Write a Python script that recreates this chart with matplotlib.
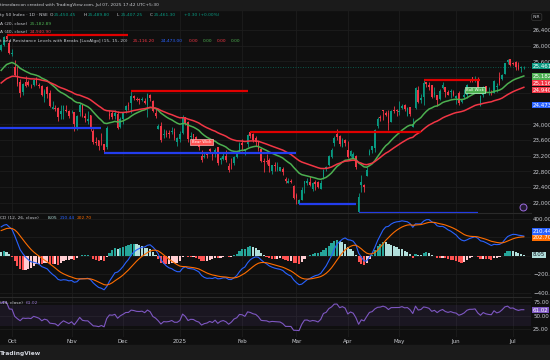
import numpy as np
import pandas as pd
import matplotlib
matplotlib.use("Agg")
import matplotlib.pyplot as plt
from matplotlib.patches import Rectangle

# ---- data: NIFTY 50 daily candles, 25 Sep 2024 .. 7 Jul 2025 ----
holidays = ["2024-10-02", "2024-11-15", "2024-11-20", "2024-12-25", "2025-02-26",
            "2025-03-14", "2025-03-31", "2025-04-10", "2025-04-14", "2025-04-18", "2025-05-01"]
extra_sessions = ["2025-02-01"]

opens = [
    25899, 26005, 26248, 26061,
    25788, 25452, 25181, 25085, 24832, 25065, 25067, 24986, 25009, 25187, 25008, 24972, 24664, 24956, 24798, 24378, 24412, 24418, 24251, 24328, 24371, 24349,
    24302, 24315, 23917, 24308, 24489, 24208, 24087, 24225, 23822, 23542, 23605, 23529, 23489, 23412, 24254, 24289, 24204, 24274, 23927,
    24141, 24367, 24489, 24540, 24729, 24633, 24652, 24620, 24604, 24498, 24753, 24584, 24297, 23877, 23960, 23738, 23769, 23775, 23801, 23796, 23560,
    23637, 23783, 24196, 24046, 23679, 23746, 23674, 23551, 23195, 23165, 23250, 23377, 23278, 23290, 23421, 23099, 23129, 23183, 22941, 22961, 23027, 23169, 23296,
    23528, 23319, 23509, 23801, 23761, 23649, 23543, 23383, 23050, 23055, 23096, 22809, 22963, 22847, 22821, 22857, 22610, 22516, 22568, 22433,
    22194, 21974, 22073, 22476, 22508, 22521, 22346, 22537, 22541, 22354, 22662, 22874, 22960, 23169, 23515, 23751, 23700, 23433, 23601,
    23341, 23192, 23150, 23190, 21758, 22446, 22460, 22695, 23208, 23345, 23401, 23949, 24185, 24358, 24277, 24289, 24070, 24370, 24342,
    24311, 24419, 24500, 24200, 24431, 23936, 24420, 24864, 24613, 24694, 25064, 25006, 24996, 24744, 24733, 24639, 24919, 24956, 24832, 24825, 24812,
    24669, 24786, 24560, 24691, 24749, 25160, 25196, 25134, 25164, 24474, 24733, 24977, 24788, 24803, 24788, 24939, 25179, 25150, 25268, 25576, 25661,
    25551, 25588, 25505, 25428, 25450,
]
highs = [
    26033, 26250, 26277, 26134,
    25907, 25639, 25485, 25143, 25044, 25234, 25134, 25029, 25159, 25212, 25041, 24987, 24886, 24978, 24882, 24604, 24480, 24440, 24492, 24484, 24499, 24372,
    24368, 24316, 24230, 24537, 24503, 24276, 24336, 24242, 23873, 23675, 23606, 23781, 23507, 23956, 24351, 24343, 24354, 24345, 24188,
    24301, 24481, 24574, 24857, 24751, 24705, 24677, 24691, 24675, 24793, 24781, 24624, 24395, 24004, 24065, 23869, 23867, 23854, 23939, 23916, 23689,
    23822, 24226, 24196, 24089, 23795, 23751, 23690, 23596, 23340, 23264, 23293, 23391, 23292, 23391, 23426, 23169, 23270, 23347, 23005, 23137, 23184, 23322, 23546,
    23632, 23381, 23762, 23807, 23773, 23694, 23569, 23390, 23144, 23235, 23134, 22974, 23050, 23049, 22924, 22921, 22668, 22625, 22613, 22450,
    22262, 22106, 22394, 22557, 22633, 22677, 22522, 22577, 22558, 22577, 22857, 22940, 23216, 23403, 23709, 23869, 23737, 23647, 23630,
    23565, 23350, 23306, 23214, 22255, 22698, 22469, 22923, 23368, 23452, 23872, 24189, 24242, 24359, 24348, 24365, 24355, 24457, 24396,
    24589, 24526, 24510, 24449, 24447, 24164, 24944, 24973, 24767, 25116, 25071, 25070, 25010, 24946, 24737, 24909, 25079, 24956, 24864, 24892, 24863,
    24754, 24845, 24644, 24899, 25029, 25160, 25199, 25223, 25196, 24754, 24967, 24982, 24947, 24863, 25136, 25057, 25317, 25266, 25561, 25654, 25669,
    25593, 25608, 25587, 25470, 25490,
]
lows = [
    25872, 25998, 26151, 25794,
    25739, 25230, 24966, 24694, 24756, 24947, 24979, 24921, 24979, 25008, 24920, 24728, 24567, 24679, 24446, 24378, 24341, 24074, 24135, 24141, 24307, 24172,
    24280, 23817, 23842, 24204, 24179, 24066, 24004, 23839, 23509, 23484, 23350, 23464, 23263, 23359, 24135, 24125, 24145, 23873, 23916,
    24008, 24280, 24366, 24295, 24620, 24580, 24510, 24583, 24527, 24180, 24601, 24303, 24149, 23870, 23537, 23647, 23685, 23653, 23761, 23599, 23460,
    23562, 23751, 23976, 23551, 23637, 23496, 23503, 23344, 23047, 23135, 23146, 23272, 23100, 23170, 22976, 22981, 23091, 23050, 22786, 22857, 22977, 23139, 23277,
    23318, 23222, 23423, 23645, 23556, 23443, 23316, 23046, 22798, 22993, 22775, 22725, 22801, 22814, 22812, 22720, 22518, 22513, 22508, 22105,
    21965, 21964, 22068, 22245, 22464, 22430, 22315, 22329, 22378, 22353, 22599, 22807, 22940, 23132, 23451, 23601, 23451, 23412, 23450,
    23136, 23158, 23145, 22857, 21744, 22271, 22271, 22695, 23207, 23273, 23298, 23903, 24073, 24119, 24216, 23847, 24054, 24290, 24199,
    24238, 24400, 24331, 24220, 24220, 23936, 24379, 24547, 24535, 24494, 24953, 24880, 24669, 24685, 24462, 24614, 24900, 24704, 24737, 24677, 24717,
    24526, 24502, 24530, 24671, 24671, 25077, 25081, 25081, 24825, 24473, 24703, 24813, 24750, 24733, 24784, 24824, 24999, 25125, 25267, 25523, 25489,
    25501, 25378, 25384, 25331, 25407,
]
closes = [
    26004, 26216, 26178, 25810,
    25796, 25250, 25015, 24796, 25013, 24981, 24998, 24964, 25128, 25057, 24971, 24749, 24854, 24781, 24472, 24435, 24399, 24180, 24339, 24466, 24341, 24205,
    24304, 23995, 24213, 24484, 24199, 24148, 24141, 23883, 23559, 23533, 23453, 23518, 23349, 23907, 24221, 24194, 24275, 23914, 24131,
    24276, 24457, 24467, 24708, 24677, 24619, 24610, 24641, 24548, 24768, 24668, 24336, 24199, 23952, 23588, 23753, 23728, 23750, 23813, 23645, 23645,
    23743, 24189, 24005, 23616, 23708, 23689, 23527, 23432, 23086, 23176, 23213, 23312, 23203, 23345, 23025, 23155, 23205, 23092, 22829, 22957, 23163, 23249, 23508,
    23482, 23361, 23739, 23696, 23603, 23560, 23382, 23072, 23045, 23031, 22929, 22960, 22945, 22933, 22913, 22796, 22553, 22547, 22545, 22125,
    22119, 22083, 22337, 22545, 22553, 22461, 22498, 22470, 22397, 22509, 22834, 22907, 23191, 23350, 23658, 23669, 23487, 23592, 23519,
    23165, 23332, 23250, 22904, 22162, 22536, 22399, 22829, 23328, 23437, 23852, 24125, 24167, 24329, 24247, 24039, 24328, 24336, 24334,
    24347, 24461, 24380, 24414, 24273, 24008, 24925, 24578, 24666, 25062, 25020, 24945, 24683, 24813, 24609, 24853, 25001, 24826, 24752, 24834, 24751,
    24716, 24543, 24620, 24751, 25003, 25103, 25104, 25141, 24888, 24719, 24946, 24853, 24812, 24793, 25112, 24971, 25044, 25245, 25549, 25637, 25517,
    25541, 25453, 25405, 25461, 25461,
]

# indicator states at the first visible bar
ema20_start, ema40_start = 25370, 25050
ema12_start, ema26_start, signal_start = 25700, 25390, 270
rsi_gain_start, rsi_loss_start = 110, 40

# LuxAlgo support / resistance pivots (dates) and levels
res_dates = ["2024-09-27", "2024-12-05", "2025-02-05", "2025-05-15"]
res_levels = [26277, 24857, 23807, 25116]
sup_dates = ["2024-08-05", "2024-11-21", "2025-03-04", "2025-04-07", "2025-06-13"]
sup_levels = [23893, 23263, 21964, 21744, 24473]
break_dates = ["2025-01-13", "2025-06-11"]
break_texts = ["Bear Wick", "Bull Wick"]

# last values as printed in the legends
last_price = "25,461.30"
ohlc_txt = ["25,450.45", "25,489.80", "25,407.25", "25,461.30"]
ema20_txt, ema40_txt = "25,182.89", "24,940.90"
sr_txt = ["25,116.20", "24,473.00", "0.00", "0.00", "0.00", "0.00"]
macd_txt = ["8.05", "210.44", "202.70"]
rsi_txt = "61.02"

price_ticks = list(range(22000, 26401, 400))
price_hidden = [25200, 24800, 24400]      # covered by value labels on the scale
macd_ticks = [400, 200, 0, -200, -400]
macd_hidden = [200, 0]
month_names = {1: "2025", 2: "Feb", 3: "Mar", 4: "Apr", 5: "May", 6: "Jun", 7: "Jul",
               10: "Oct", 11: "Nov", 12: "Dec"}

# ---- build series ----
days = pd.bdate_range("2024-09-25", "2025-07-07")
days = days[~days.isin(pd.to_datetime(holidays))].append(pd.to_datetime(extra_sessions)).sort_values()
o, h, l, c = (np.array(a, dtype=float) for a in (opens, highs, lows, closes))
n = len(c)
assert len(days) == n == len(o) == len(h) == len(l)
x = np.arange(n)


def ema(values, start, span):
    k = 2 / (span + 1)
    out = [start]
    for v in values[1:]:
        out.append(out[-1] + k * (v - out[-1]))
    return np.array(out)


def rsi(values, g, lo, period=14):
    out = [100 - 100 / (1 + g / lo)]
    for a, b in zip(values[:-1], values[1:]):
        d = b - a
        g = (g * (period - 1) + max(d, 0)) / period
        lo = (lo * (period - 1) + max(-d, 0)) / period
        out.append(100 - 100 / (1 + g / lo))
    return np.array(out)


ema20 = ema(c, ema20_start, 20)
ema40 = ema(c, ema40_start, 40)
macd = ema(c, ema12_start, 12) - ema(c, ema26_start, 26)
signal = ema(macd, signal_start, 9)
hist = macd - signal
rsi14 = rsi(c, rsi_gain_start, rsi_loss_start)


def idx(d):
    d = pd.Timestamp(d)
    return int(days.searchsorted(d)) if d >= days[0] else -1


# ---- styling ----
W, H = 550, 360
BG = "#0f0f0f"
STRIP = "#1b1b1b"
GRID = "#1d1d1d"
SEP = "#2a2a2a"
TXT = "#c9cbd1"
UP, DN = "#089981", "#f23645"
FS = 3.15
AXFS = 4.0

plt.rcParams["font.family"] = ["DejaVu Sans"]


def fx(px):
    return px / W


def fy(py):
    return 1 - py / H


fig = plt.figure(figsize=(W / 100, H / 100), dpi=100, facecolor=BG)
fig.patches.append(Rectangle((0, fy(10)), 1, 10 / H, transform=fig.transFigure, color=STRIP, zorder=0))
fig.patches.append(Rectangle((0, 0), 1, 15 / H, transform=fig.transFigure, color=STRIP, zorder=0))

ax_p = fig.add_axes([0, fy(213), fx(531), 203 / H])
ax_m = fig.add_axes([0, fy(297), fx(531), 84 / H])
ax_r = fig.add_axes([0, fy(337), fx(531), 40 / H])

month_idx = [i for i in range(1, n) if days[i].month != days[i - 1].month]
month_lbl = [month_names[days[i].month] for i in month_idx]

for ax in (ax_p, ax_m, ax_r):
    ax.set_facecolor(BG)
    ax.set_xlim(-0.43, 195.65)
    for s in ax.spines.values():
        s.set_visible(False)
    ax.set_xticks(month_idx)
    ax.set_xticklabels([])
    ax.tick_params(axis="both", length=0, colors=TXT, labelsize=AXFS)
    ax.yaxis.tick_right()
    ax.tick_params(axis="y", pad=1.5)
    ax.grid(True, color=GRID, lw=0.6)
    ax.set_axisbelow(True)
for ax in (ax_m, ax_r):
    ax.spines["top"].set_visible(True)
    ax.spines["top"].set_color(SEP)
    ax.spines["top"].set_linewidth(0.8)

# price pane
ax_p.set_ylim(21744, 26906)
ax_p.set_yticks(price_ticks)
ax_p.set_yticklabels(["" if v in price_hidden else f"{v:,}" for v in price_ticks])
col = np.where(c >= o, UP, DN)
ax_p.vlines(x, l, h, colors=col, lw=0.6, zorder=3)
ax_p.bar(x, np.maximum(np.abs(c - o), 18), bottom=np.minimum(o, c), width=0.62, color=col, lw=0, zorder=3)
ax_p.plot(x, ema20, color="#4caf50", lw=1.1, zorder=4)
ax_p.plot(x, ema40, color="#f23645", lw=1.1, zorder=4)
ax_p.axhline(c[-1], color=UP, lw=0.6, ls=(0, (1, 2)), alpha=0.7, zorder=2)

shift = 16  # plot offset of the pivot levels
for dates, levels, color in ((res_dates, res_levels, "#e00000"), (sup_dates, sup_levels, "#233dee")):
    starts = [idx(d) for d in dates]
    for k, (s, lev) in enumerate(zip(starts, levels)):
        e = starts[k + 1] - 1 if k + 1 < len(starts) else n - 1 - shift
        s = max(s, -1)
        ax_p.plot([s, e], [lev, lev], color=color, lw=1.6, solid_capstyle="butt", zorder=5)

for d, t in zip(break_dates, break_texts):
    i = idx(d)
    if t.startswith("Bear"):
        ax_p.annotate(t, (i, h[i]), xytext=(0, 4.5), textcoords="offset points", ha="center", va="bottom",
                      fontsize=2.8, color="white", zorder=6,
                      bbox=dict(boxstyle="square,pad=0.35", fc="#ff5252", ec="#ffb3b3", lw=0.5))
    else:
        ax_p.annotate(t, (i, l[i]), xytext=(0, -4.5), textcoords="offset points", ha="center", va="top",
                      fontsize=2.8, color="white", zorder=6,
                      bbox=dict(boxstyle="square,pad=0.35", fc="#4caf50", ec="#b9f6ca", lw=0.5))

ax_p.plot([0.985], [0.03], transform=ax_p.transAxes, marker="o", ms=5, mfc="#231a33", mec="#9c6ade", mew=0.7, zorder=6)

# MACD pane
ax_m.set_ylim(-448, 460)
ax_m.set_yticks(macd_ticks)
ax_m.set_yticklabels(["" if v in macd_hidden else f"{v:.2f}".replace("-", "\u2212") for v in macd_ticks])
prev = np.concatenate([[hist[0]], hist[:-1]])
hcol = np.where(hist >= 0, np.where(hist > prev, "#26a69a", "#b2dfdb"),
                np.where(hist > prev, "#ffcdd2", "#ff5252"))
ax_m.bar(x, hist, width=0.8, color=hcol, lw=0, zorder=3)
ax_m.plot(x, macd, color="#2962ff", lw=0.8, zorder=4)
ax_m.plot(x, signal, color="#ff6d00", lw=0.8, zorder=4)

# RSI pane
ax_r.set_ylim(9.8, 84.9)
ax_r.set_yticks([75, 50, 25])
ax_r.set_yticklabels(["75.00", "50.00", "25.00"])
ax_r.axhspan(30, 70, color="#7e57c2", alpha=0.1, lw=0, zorder=1)
ax_r.plot(x, rsi14, color="#7e57c2", lw=0.8, zorder=4)
ax_r.set_xticklabels(month_lbl)
ax_r.tick_params(axis="x", pad=1.2, labelsize=AXFS)


# ---- texts ----
def txt(px, py, s, color=TXT, size=FS, **kw):
    fig.text(fx(px), fy(py), s, color=color, fontsize=size, va="center", ha="left", **kw)


def box(py, s, fc, tc="white"):
    fig.text(fx(533), fy(py), s, color=tc, fontsize=AXFS, va="center", ha="left", zorder=10,
             bbox=dict(boxstyle="square,pad=0.12", fc=fc, ec="none"))


txt(0, 5, "timedaecon created with TradingView.com, Jul 07, 2025 17:42 UTC+5:30")
txt(0, 15, "ty 50 Index \u00b7 1D \u00b7 NSE")
for px, lab, val in zip((50, 84, 117, 150), "OHLC", ohlc_txt):
    txt(px, 15, lab)
    txt(px + 4, 15, val, color=UP)
txt(184, 15, "+0.30 (+0.00%)", color=UP)
txt(0, 24, "A (20, close)")
txt(30, 24, ema20_txt, color="#4caf50")
txt(0, 32, "A (40, close)")
txt(30, 32, ema40_txt, color=DN)
txt(0, 41, "t and Resistance Levels with Breaks [LuxAlgo] (15, 15, 20)")
for px, s, cl in zip((133, 161, 189, 203, 217, 231), sr_txt,
                     (DN, "#2962ff", DN, "#4caf50", DN, "#4caf50")):
    txt(px, 41, s, color=cl)

txt(0, 218, "CD (12, 26, close)")
for px, s, cl in zip((48, 60, 77), macd_txt, ("#b2dfdb", "#2962ff", "#ff6d00")):
    txt(px, 218, s, color=cl)
txt(0, 303, "(14, close)")
txt(26, 303, rsi_txt, color="#9575cd")

fig.text(fx(533), fy(17), "INR", color=TXT, fontsize=3.2, va="center", ha="left", zorder=10,
         bbox=dict(boxstyle="round,pad=0.3", fc=BG, ec="#3a3a3a", lw=0.5))
box(66, last_price, UP)
box(76.5, ema20_txt, "#4caf50")
box(83.3, sr_txt[0], DN)
box(90.1, ema40_txt, DN)
box(105, sr_txt[1], "#2962ff")
box(231.5, macd_txt[1], "#2962ff")
box(237.8, macd_txt[2], "#ff6d00")
box(255, macd_txt[0], "#b2dfdb", tc="#131722")
box(310, rsi_txt, "#7e57c2")

txt(0, 353, "TradingView", color="#d1d4dc", size=4.2, weight="bold")

fig.savefig("out.png", dpi=100, facecolor=BG)
